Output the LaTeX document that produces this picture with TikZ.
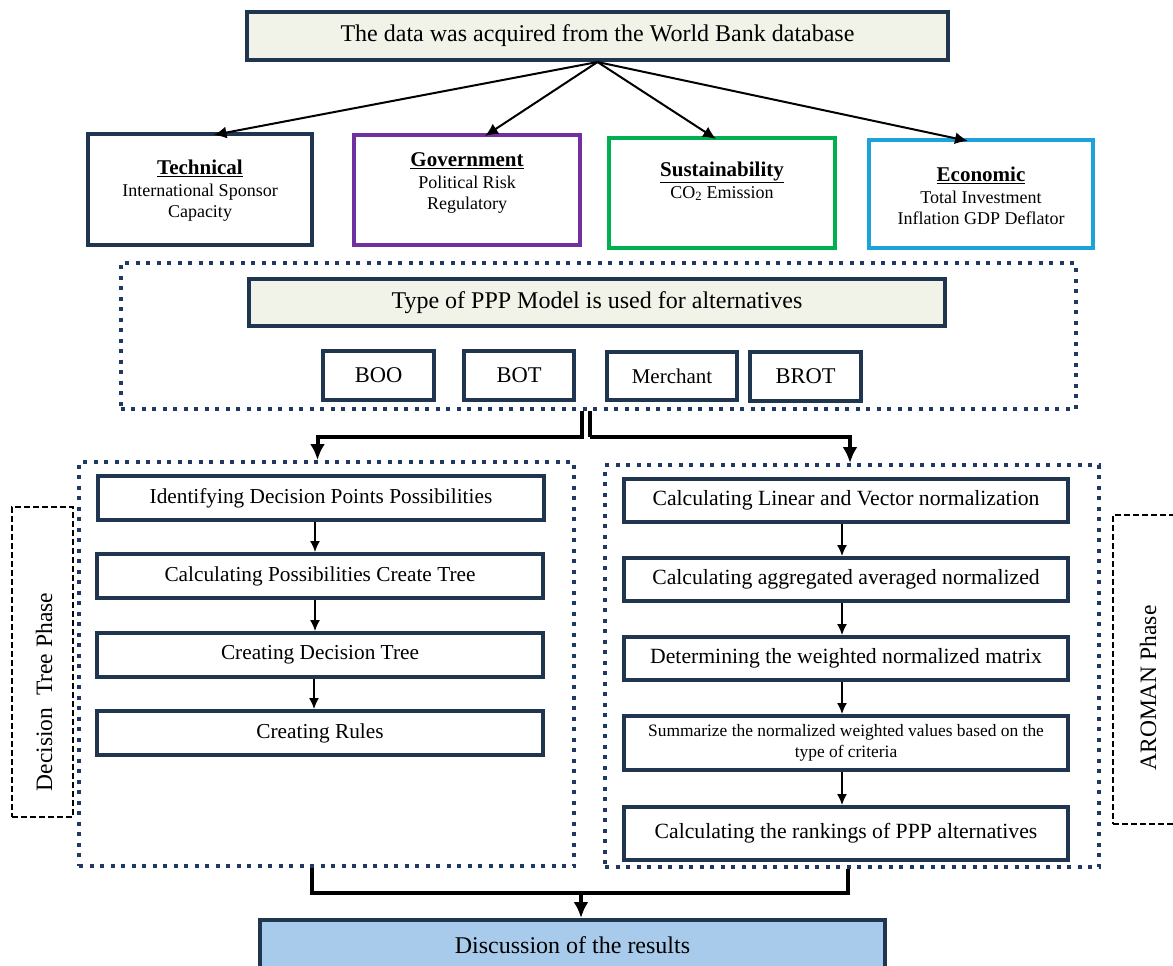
\documentclass[tikz,border=0pt]{standalone}
\usepackage{fontspec}
\setmainfont{Liberation Serif}
\usetikzlibrary{arrows.meta,calc}
\definecolor{navy}{HTML}{1F3550}
\definecolor{dotnavy}{HTML}{1F3864}
\definecolor{beige}{HTML}{F1F3E8}
\definecolor{govpurple}{HTML}{7030A0}
\definecolor{susgreen}{HTML}{00B050}
\definecolor{ecoblue}{HTML}{1CA3DC}
\definecolor{discblue}{HTML}{A8CBEB}
\newcommand{\cattitle}[1]{{\fontsize{21}{24}\selectfont\textbf{\underline{#1}}}}
\tikzset{
  solidbox/.style={draw=navy,line width=4pt,minimum width=#1,inner sep=0pt,align=center},
  catbox/.style={line width=4pt,inner sep=0pt},
  dotframe/.style={draw=dotnavy,line width=4pt,dash pattern=on 4pt off 6.5pt,inner sep=0pt},
  phasebox/.style={draw=black,line width=1.6pt,dash pattern=on 6pt off 3pt,inner sep=0pt},
  huge/.style={font=\fontsize{24}{28}\selectfont},
  big/.style={font=\fontsize{21.3}{25}\selectfont},
  mid/.style={font=\fontsize{21.5}{25}\selectfont},
  cat/.style={font=\fontsize{18}{21.5}\selectfont,align=center},
  toparrow/.style={line width=2pt,-{Latex[length=13pt,width=12pt]}},
  smallarrow/.style={line width=1.3pt,-{Latex[length=11pt,width=10pt]}},
  bigline/.style={line width=4pt},
  bigarrow/.style={line width=4pt,-{Latex[length=16pt,width=15pt]}},
}
\begin{document}
\begin{tikzpicture}[x=1pt,y=-1pt]
\useasboundingbox (0,0) rectangle (1173,966);

% top box
\node[solidbox=701pt,fill=beige,minimum height=48pt,huge] (top) at (597.5,36) {The data was acquired from the World Bank database};

% category boxes
\node[catbox,draw=navy,minimum width=224pt,minimum height=111pt] (tech) at (199.5,189.5) {};
\node[catbox,draw=govpurple,minimum width=226pt,minimum height=110pt] (gov) at (467,190) {};
\node[catbox,draw=susgreen,minimum width=226pt,minimum height=110pt] (sus) at (722,193) {};
\node[catbox,draw=ecoblue,minimum width=224pt,minimum height=108pt] (eco) at (981,194) {};

\node[cat] (techtxt) at (200,191) {\cattitle{Technical}\\International Sponsor\\Capacity};
\node[cat] (govtxt) at (467,183) {\cattitle{Government}\\Political Risk\\Regulatory};
\node[cat] (sustxt) at (722,181.5) {\cattitle{Sustainability}\\CO\textsubscript{2} Emission};
\node[cat] (ecotxt) at (981,196) {\cattitle{Economic}\\Total Investment\\Inflation GDP Deflator};

\draw[toparrow] (top.south) -- ([xshift=14pt,yshift=-3pt]tech.north);
\draw[toparrow] (top.south) -- ([xshift=18pt,yshift=-3pt]gov.north);
\draw[toparrow] (top.south) -- ([xshift=-6pt,yshift=-3pt]sus.north);
\draw[toparrow] (top.south) -- ([xshift=-13pt,yshift=-3pt]eco.north);

% PPP frame
\node[dotframe,minimum width=955pt,minimum height=146pt] (pppf) at (598,336) {};
\node[solidbox=696pt,fill=beige,minimum height=47pt,huge] (ppp) at (597,302.5) {Type of PPP Model is used for alternatives};
\node[solidbox=111pt,minimum height=49pt,font=\fontsize{22.5}{26}\selectfont] (boo) at (378.5,375.5) {BOO};
\node[solidbox=110pt,minimum height=49pt,font=\fontsize{22.5}{26}\selectfont] (bot) at (519,375.5) {BOT};
\node[solidbox=130pt,minimum height=48pt,font=\fontsize{21}{25}\selectfont] (mer) at (672,376) {Merchant};
\node[solidbox=111pt,minimum height=49pt,font=\fontsize{22.5}{26}\selectfont] (brot) at (805.5,376.5) {BROT};

% phase frames
\node[dotframe,minimum width=495pt,minimum height=404pt] (lf) at (326.5,664) {};
\node[dotframe,minimum width=494pt,minimum height=402pt] (rf) at (852,666) {};

% connectors from PPP frame
\draw[bigline] ([xshift=-16pt]pppf.south) |- (584,437);
\draw[bigarrow] (584,437) -| ([xshift=-9pt]lf.north);
\draw[bigline] ([xshift=-8pt]pppf.south) |- (590,437);
\draw[bigarrow] (590,437) -| ([xshift=-2pt]rf.north);

% left column
\node[solidbox=446pt,minimum height=44pt,big] (l1) at (321,498) {Identifying Decision Points Possibilities};
\node[solidbox=446pt,minimum height=44pt,big] (l2) at (320,576) {Calculating Possibilities Create Tree};
\node[solidbox=446pt,minimum height=44pt,big] (l3) at (320,655) {Creating Decision Tree};
\node[solidbox=446pt,minimum height=44pt,big] (l4) at (320,733) {Creating Rules};
\draw[smallarrow] ([xshift=-6pt]l1.south) -- ([xshift=-5pt]l2.north);
\draw[smallarrow] ([xshift=-5pt]l2.south) -- ([xshift=-5pt]l3.north);
\draw[smallarrow] ([xshift=-6pt]l3.south) -- ([xshift=-6pt]l4.north);

% right column
\node[solidbox=444pt,minimum height=43pt,font=\fontsize{21.7}{25}\selectfont] (r1) at (846,500.5) {Calculating Linear and Vector normalization};
\node[solidbox=444pt,minimum height=43pt,font=\fontsize{21.7}{25}\selectfont] (r2) at (846,579.5) {Calculating aggregated averaged normalized};
\node[solidbox=444pt,minimum height=43pt,font=\fontsize{21.7}{25}\selectfont] (r3) at (846,658.5) {Determining the weighted normalized matrix};
\node[solidbox=444pt,minimum height=54pt,font=\fontsize{17.4}{21}\selectfont] (r4) at (846,743) {Summarize the normalized weighted values based on the\\type of criteria};
\node[solidbox=444pt,minimum height=53pt,font=\fontsize{21.7}{25}\selectfont] (r5) at (846,833.5) {Calculating the rankings of PPP alternatives};
\draw[smallarrow] ([xshift=-4pt]r1.south) -- ([xshift=-4pt]r2.north);
\draw[smallarrow] ([xshift=-4pt]r2.south) -- ([xshift=-4pt]r3.north);
\draw[smallarrow] ([xshift=-4pt]r3.south) -- ([xshift=-4pt]r4.north);
\draw[smallarrow] ([xshift=-4pt]r4.south) -- ([xshift=-4pt]r5.north);

% phase labels
\node[phasebox,minimum width=61pt,minimum height=310pt] (dtp) at (42.5,662) {};
\node[rotate=90,font=\fontsize{23.5}{27}\selectfont] (dtptxt) at (44,692) {Decision\ \ Tree Phase};
\node[phasebox,minimum width=70pt,minimum height=309pt] (arp) at (1148,669.5) {};
\node[rotate=90,font=\fontsize{23.5}{27}\selectfont] (arptxt) at (1148,688) {AROMAN Phase};

% discussion
\node[solidbox=625pt,fill=discblue,minimum height=50pt,huge] (disc) at (572.5,945) {Discussion of the results};
\draw[bigline] ([xshift=-15pt]lf.south) |- (848,893) -- ([xshift=-4pt]rf.south);
\coordinate (join) at (581,893);
\draw[bigarrow] (join) -- ([xshift=8.5pt]disc.north);
\end{tikzpicture}
\end{document}
